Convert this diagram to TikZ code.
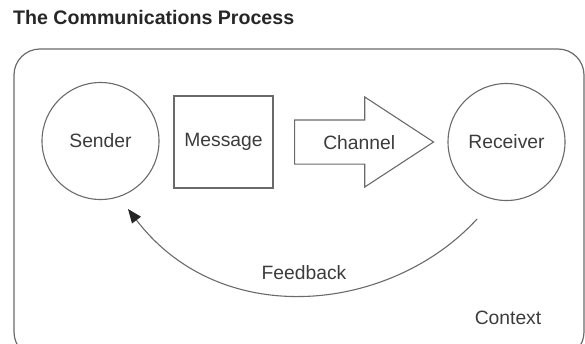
\documentclass[tikz,border=0pt]{standalone}
\usepackage{fontspec}
\setmainfont{Liberation Sans}
\usetikzlibrary{shapes.arrows,arrows.meta}
\definecolor{linegray}{HTML}{6A6A6A}
\definecolor{textgray}{HTML}{3C3C3C}
\tikzset{
	txt/.style={text=textgray,font=\fontsize{19.3}{23}\selectfont},
	party/.style={circle,draw=linegray,line width=1.1pt,minimum size=117pt,inner sep=0pt,txt},
	msgbox/.style={rectangle,draw=linegray,line width=1.1pt,minimum width=99pt,minimum height=92pt,inner sep=0pt,txt},
	chanarrow/.style={single arrow,draw=linegray,line width=1.1pt,minimum height=139pt,
		inner xsep=2pt,inner ysep=0pt,text height=28.5pt,text depth=14.5pt,
		single arrow head extend=23pt,single arrow tip angle=66.4,txt},
	feedback/.style={draw=linegray,line width=1.1pt,-{Triangle[length=14pt,width=11pt,fill=black!85,color=black!85]}}
}
\begin{document}
\begin{tikzpicture}[x=1pt,y=-1pt]
	\useasboundingbox (0,0) rectangle (585,343);
	%Title
	\node [anchor=base west,inner sep=0pt,txt,text=black!85,font=\fontsize{19.6}{23}\selectfont\bfseries] (title) at (13,24) {The Communications Process};
	%Outer frame (context)
	\draw [linegray,line width=1.2pt,rounded corners=26pt] (14,49) rectangle (584,358);
	%Sender, message, channel, receiver
	\node [party] (sender) at (100.5,141) {Sender};
	\node [msgbox] (message) at (223.5,142) {Message};
	\node [chanarrow,anchor=tail] (channel) at (294,142) {\hspace*{24pt}Channel};
	\node [party] (receiver) at (506.5,142) {Receiver};
	%Feedback arc
	\coordinate (fbstart) at (477,219);
	\coordinate (fbend) at (128,209);
	\draw [feedback] (fbstart) .. controls (392,312) and (222,332) .. (fbend);
	\node [txt] (fblabel) at (304,273) {Feedback};
	%Context label
	\node [txt] (context) at (508,317.5) {Context};
\end{tikzpicture}
\end{document}
